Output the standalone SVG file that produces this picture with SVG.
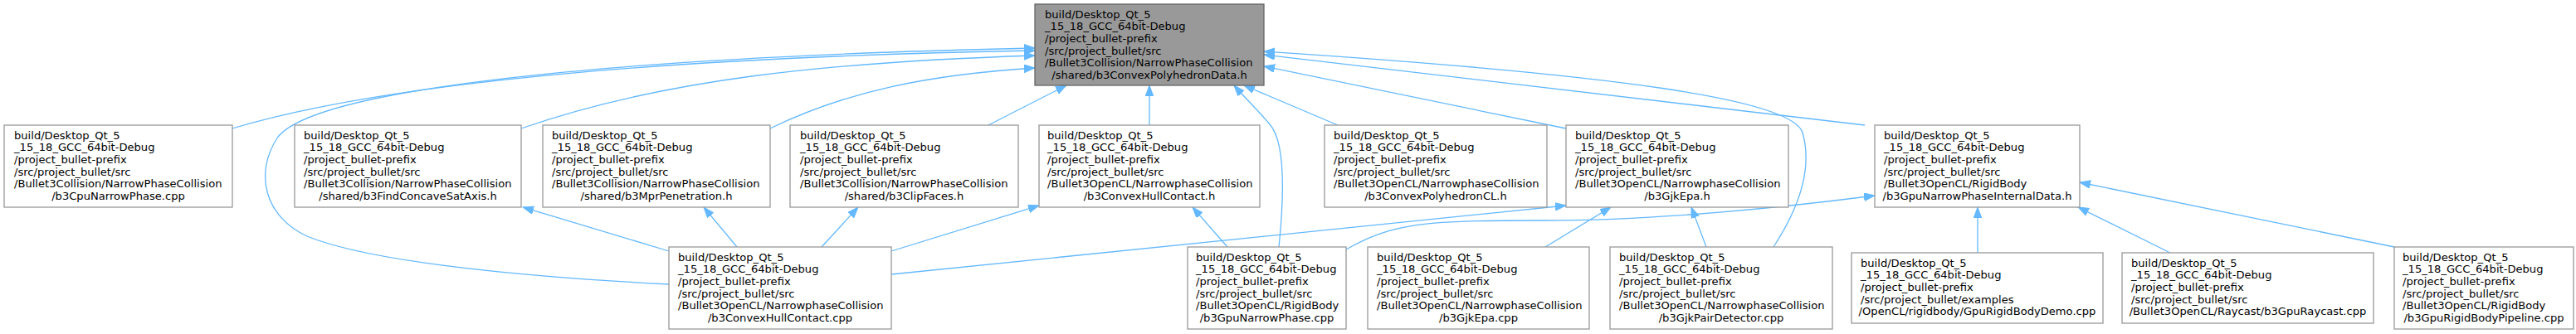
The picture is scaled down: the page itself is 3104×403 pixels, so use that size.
<svg xmlns="http://www.w3.org/2000/svg" width="3104" height="403" viewBox="0 0 3104 403">
<style>
.node rect{fill:#ffffff;stroke:#999999;stroke-width:1.3}
#node1 rect{fill:#999999;stroke:#666666}
text{font-family:"DejaVu Sans","Liberation Sans",sans-serif;font-size:13.1px;fill:#000000}
.c{text-anchor:middle}
.edge{fill:none;stroke:#63b8ff;stroke-width:1.3}
</style>
<defs>
<marker id="ah" markerUnits="userSpaceOnUse" markerWidth="15" markerHeight="11" refX="13" refY="4.8" orient="auto">
<path d="M0,0 L13,4.8 L0,9.6 z" fill="#63b8ff" stroke="#63b8ff" stroke-width="1"/>
</marker>
</defs>
<rect width="3104" height="403" fill="#ffffff"/>
<g id="connectors">
<path class="edge" marker-end="url(#ah)" d="M280,155 C480,95 850,68 1247,61"/>
<path class="edge" marker-end="url(#ah)" d="M806,343 C650,335 450,318 370,285 C320,262 305,210 335,165 C380,110 700,70 1247,58"/>
<path class="edge" marker-end="url(#ah)" d="M628,155 C800,95 1000,75 1247,67"/>
<path class="edge" marker-end="url(#ah)" d="M928,155 C1020,110 1120,90 1247,82"/>
<path class="edge" marker-end="url(#ah)" d="M1189,152 L1285,103"/>
<path class="edge" marker-end="url(#ah)" d="M1385,151 L1385,103"/>
<path class="edge" marker-end="url(#ah)" d="M1612,151 L1499,103"/>
<path class="edge" marker-end="url(#ah)" d="M1887,155 L1523,80"/>
<path class="edge" marker-end="url(#ah)" d="M2247,151 L1523,66"/>
<path class="edge" marker-end="url(#ah)" d="M1541,298 C1548,230 1548,170 1530,150 C1515,132 1500,118 1487,103"/>
<path class="edge" marker-end="url(#ah)" d="M2137,298 C2165,255 2185,205 2172,160 C2160,120 1950,90 1523,62"/>
<path class="edge" marker-end="url(#ah)" d="M806,303 L630,250"/>
<path class="edge" marker-end="url(#ah)" d="M888,298 L848,250"/>
<path class="edge" marker-end="url(#ah)" d="M990,298 L1034,250"/>
<path class="edge" marker-end="url(#ah)" d="M1074,303 L1252,248"/>
<path class="edge" marker-end="url(#ah)" d="M1074,331 L1887,248"/>
<path class="edge" marker-end="url(#ah)" d="M1479,298 L1437,250"/>
<path class="edge" marker-end="url(#ah)" d="M1622,301 C1680,268 1720,266 1860,266 C2000,266 2150,250 2259,236"/>
<path class="edge" marker-end="url(#ah)" d="M1862,298 L1941,250"/>
<path class="edge" marker-end="url(#ah)" d="M2056,298 L2038,250"/>
<path class="edge" marker-end="url(#ah)" d="M2383,305 L2383,250"/>
<path class="edge" marker-end="url(#ah)" d="M2615,305 L2504,250"/>
<path class="edge" marker-end="url(#ah)" d="M2885,298 L2506,220"/>
</g>
<g id="node1" class="node">
<rect x="1247" y="5" width="276" height="98"/>
<text><tspan x="1259" y="21.5">build/Desktop_Qt_5</tspan><tspan x="1259" y="36.2">_15_18_GCC_64bit-Debug</tspan><tspan x="1259" y="50.8">/project_bullet-prefix</tspan><tspan x="1259" y="65.5">/src/project_bullet/src</tspan><tspan x="1259" y="80.2">/Bullet3Collision/NarrowPhaseCollision</tspan><tspan class="c" x="1385" y="94.8">/shared/b3ConvexPolyhedronData.h</tspan></text>
</g>
<g id="node2" class="node">
<rect x="5" y="151" width="275" height="99"/>
<text><tspan x="17" y="167.5">build/Desktop_Qt_5</tspan><tspan x="17" y="182.2">_15_18_GCC_64bit-Debug</tspan><tspan x="17" y="196.8">/project_bullet-prefix</tspan><tspan x="17" y="211.5">/src/project_bullet/src</tspan><tspan x="17" y="226.2">/Bullet3Collision/NarrowPhaseCollision</tspan><tspan class="c" x="142.5" y="240.8">/b3CpuNarrowPhase.cpp</tspan></text>
</g>
<g id="node3" class="node">
<rect x="355" y="151" width="273" height="99"/>
<text><tspan x="366" y="167.5">build/Desktop_Qt_5</tspan><tspan x="366" y="182.2">_15_18_GCC_64bit-Debug</tspan><tspan x="366" y="196.8">/project_bullet-prefix</tspan><tspan x="366" y="211.5">/src/project_bullet/src</tspan><tspan x="366" y="226.2">/Bullet3Collision/NarrowPhaseCollision</tspan><tspan class="c" x="491.5" y="240.8">/shared/b3FindConcaveSatAxis.h</tspan></text>
</g>
<g id="node4" class="node">
<rect x="654" y="151" width="274" height="99"/>
<text><tspan x="665" y="167.5">build/Desktop_Qt_5</tspan><tspan x="665" y="182.2">_15_18_GCC_64bit-Debug</tspan><tspan x="665" y="196.8">/project_bullet-prefix</tspan><tspan x="665" y="211.5">/src/project_bullet/src</tspan><tspan x="665" y="226.2">/Bullet3Collision/NarrowPhaseCollision</tspan><tspan class="c" x="791" y="240.8">/shared/b3MprPenetration.h</tspan></text>
</g>
<g id="node5" class="node">
<rect x="952" y="151" width="275" height="99"/>
<text><tspan x="964" y="167.5">build/Desktop_Qt_5</tspan><tspan x="964" y="182.2">_15_18_GCC_64bit-Debug</tspan><tspan x="964" y="196.8">/project_bullet-prefix</tspan><tspan x="964" y="211.5">/src/project_bullet/src</tspan><tspan x="964" y="226.2">/Bullet3Collision/NarrowPhaseCollision</tspan><tspan class="c" x="1089.5" y="240.8">/shared/b3ClipFaces.h</tspan></text>
</g>
<g id="node6" class="node">
<rect x="1252" y="151" width="266" height="99"/>
<text><tspan x="1262" y="167.5">build/Desktop_Qt_5</tspan><tspan x="1262" y="182.2">_15_18_GCC_64bit-Debug</tspan><tspan x="1262" y="196.8">/project_bullet-prefix</tspan><tspan x="1262" y="211.5">/src/project_bullet/src</tspan><tspan x="1262" y="226.2">/Bullet3OpenCL/NarrowphaseCollision</tspan><tspan class="c" x="1385" y="240.8">/b3ConvexHullContact.h</tspan></text>
</g>
<g id="node7" class="node">
<rect x="1596" y="151" width="268" height="99"/>
<text><tspan x="1607" y="167.5">build/Desktop_Qt_5</tspan><tspan x="1607" y="182.2">_15_18_GCC_64bit-Debug</tspan><tspan x="1607" y="196.8">/project_bullet-prefix</tspan><tspan x="1607" y="211.5">/src/project_bullet/src</tspan><tspan x="1607" y="226.2">/Bullet3OpenCL/NarrowphaseCollision</tspan><tspan class="c" x="1730" y="240.8">/b3ConvexPolyhedronCL.h</tspan></text>
</g>
<g id="node8" class="node">
<rect x="1887" y="151" width="268" height="99"/>
<text><tspan x="1898" y="167.5">build/Desktop_Qt_5</tspan><tspan x="1898" y="182.2">_15_18_GCC_64bit-Debug</tspan><tspan x="1898" y="196.8">/project_bullet-prefix</tspan><tspan x="1898" y="211.5">/src/project_bullet/src</tspan><tspan x="1898" y="226.2">/Bullet3OpenCL/NarrowphaseCollision</tspan><tspan class="c" x="2021" y="240.8">/b3GjkEpa.h</tspan></text>
</g>
<g id="node9" class="node">
<rect x="2259" y="151" width="247" height="99"/>
<text><tspan x="2270" y="167.5">build/Desktop_Qt_5</tspan><tspan x="2270" y="182.2">_15_18_GCC_64bit-Debug</tspan><tspan x="2270" y="196.8">/project_bullet-prefix</tspan><tspan x="2270" y="211.5">/src/project_bullet/src</tspan><tspan x="2270" y="226.2">/Bullet3OpenCL/RigidBody</tspan><tspan class="c" x="2382.5" y="240.8">/b3GpuNarrowPhaseInternalData.h</tspan></text>
</g>
<g id="node10" class="node">
<rect x="806" y="298" width="268" height="99"/>
<text><tspan x="817" y="314.5">build/Desktop_Qt_5</tspan><tspan x="817" y="329.2">_15_18_GCC_64bit-Debug</tspan><tspan x="817" y="343.8">/project_bullet-prefix</tspan><tspan x="817" y="358.5">/src/project_bullet/src</tspan><tspan x="817" y="373.2">/Bullet3OpenCL/NarrowphaseCollision</tspan><tspan class="c" x="940" y="387.8">/b3ConvexHullContact.cpp</tspan></text>
</g>
<g id="node11" class="node">
<rect x="1431" y="298" width="191" height="99"/>
<text><tspan x="1441" y="314.5">build/Desktop_Qt_5</tspan><tspan x="1441" y="329.2">_15_18_GCC_64bit-Debug</tspan><tspan x="1441" y="343.8">/project_bullet-prefix</tspan><tspan x="1441" y="358.5">/src/project_bullet/src</tspan><tspan x="1441" y="373.2">/Bullet3OpenCL/RigidBody</tspan><tspan class="c" x="1526.5" y="387.8">/b3GpuNarrowPhase.cpp</tspan></text>
</g>
<g id="node12" class="node">
<rect x="1648" y="298" width="267" height="99"/>
<text><tspan x="1659" y="314.5">build/Desktop_Qt_5</tspan><tspan x="1659" y="329.2">_15_18_GCC_64bit-Debug</tspan><tspan x="1659" y="343.8">/project_bullet-prefix</tspan><tspan x="1659" y="358.5">/src/project_bullet/src</tspan><tspan x="1659" y="373.2">/Bullet3OpenCL/NarrowphaseCollision</tspan><tspan class="c" x="1781.5" y="387.8">/b3GjkEpa.cpp</tspan></text>
</g>
<g id="node13" class="node">
<rect x="1940" y="298" width="268" height="99"/>
<text><tspan x="1951" y="314.5">build/Desktop_Qt_5</tspan><tspan x="1951" y="329.2">_15_18_GCC_64bit-Debug</tspan><tspan x="1951" y="343.8">/project_bullet-prefix</tspan><tspan x="1951" y="358.5">/src/project_bullet/src</tspan><tspan x="1951" y="373.2">/Bullet3OpenCL/NarrowphaseCollision</tspan><tspan class="c" x="2074" y="387.8">/b3GjkPairDetector.cpp</tspan></text>
</g>
<g id="node14" class="node">
<rect x="2231" y="305" width="303" height="85"/>
<text><tspan x="2242" y="321.5">build/Desktop_Qt_5</tspan><tspan x="2242" y="336.2">_15_18_GCC_64bit-Debug</tspan><tspan x="2242" y="350.8">/project_bullet-prefix</tspan><tspan x="2242" y="365.5">/src/project_bullet/examples</tspan><tspan class="c" x="2382.5" y="380.2">/OpenCL/rigidbody/GpuRigidBodyDemo.cpp</tspan></text>
</g>
<g id="node15" class="node">
<rect x="2557" y="305" width="303" height="85"/>
<text><tspan x="2568" y="321.5">build/Desktop_Qt_5</tspan><tspan x="2568" y="336.2">_15_18_GCC_64bit-Debug</tspan><tspan x="2568" y="350.8">/project_bullet-prefix</tspan><tspan x="2568" y="365.5">/src/project_bullet/src</tspan><tspan class="c" x="2708.5" y="380.2">/Bullet3OpenCL/Raycast/b3GpuRaycast.cpp</tspan></text>
</g>
<g id="node16" class="node">
<rect x="2885" y="298" width="216" height="99"/>
<text><tspan x="2895" y="314.5">build/Desktop_Qt_5</tspan><tspan x="2895" y="329.2">_15_18_GCC_64bit-Debug</tspan><tspan x="2895" y="343.8">/project_bullet-prefix</tspan><tspan x="2895" y="358.5">/src/project_bullet/src</tspan><tspan x="2895" y="373.2">/Bullet3OpenCL/RigidBody</tspan><tspan class="c" x="2993" y="387.8">/b3GpuRigidBodyPipeline.cpp</tspan></text>
</g>
</svg>
